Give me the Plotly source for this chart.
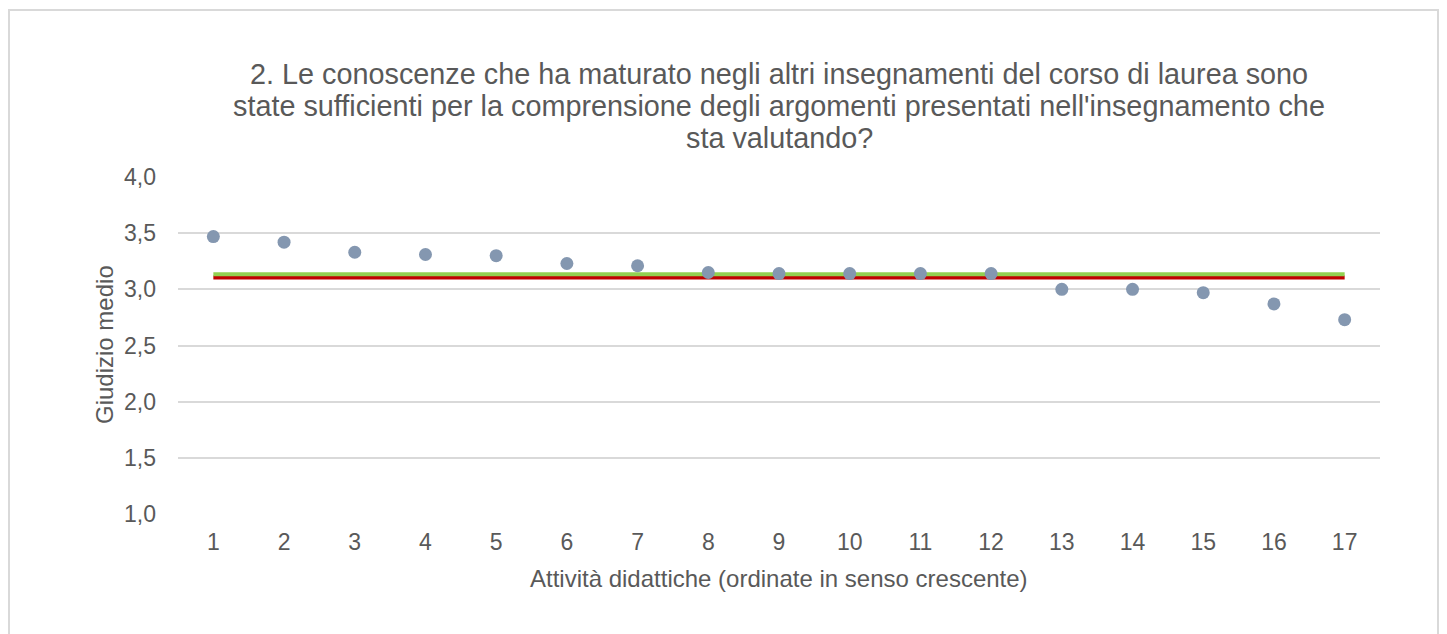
import plotly.graph_objects as go

activities = list(range(1, 18))
scores = [3.47, 3.42, 3.33, 3.31, 3.30, 3.23, 3.21, 3.15, 3.14, 3.14, 3.14, 3.14,
          3.00, 3.00, 2.97, 2.87, 2.73]
line_x = [1, 17]
red_level = [3.105, 3.105]
green_level = [3.135, 3.135]
y_ticks = [1.0, 1.5, 2.0, 2.5, 3.0, 3.5, 4.0]

title_lines = [
    "2. Le conoscenze che ha maturato negli altri insegnamenti del corso di laurea sono",
    "state sufficienti per la comprensione degli argomenti presentati nell'insegnamento che",
    "sta valutando?",
]
x_title = "Attività didattiche (ordinate in senso crescente)"
y_title = "Giudizio medio"

# page body has an 8px margin, compensate so the plot lands where intended
OFF = 8
W, H = 1447, 634
ml, mt = 178 - OFF, 177 - OFF
pw, ph = 1202, 337
mr = W - ml - pw
mb = H - mt - ph


def px_x(sx):
    return (sx - OFF - ml) / pw


def px_y(sy):
    return (H - mb - (sy - OFF)) / ph


font_c = "#595959"
fam = "Liberation Sans, Arial, sans-serif"

fig = go.Figure()
fig.add_trace(go.Scatter(x=line_x, y=red_level, mode="lines",
                         line=dict(color="#C00000", width=4), showlegend=False, hoverinfo="skip"))
fig.add_trace(go.Scatter(x=line_x, y=green_level, mode="lines",
                         line=dict(color="#92D050", width=4), showlegend=False, hoverinfo="skip"))
fig.add_trace(go.Scatter(x=activities, y=scores, mode="markers",
                         marker=dict(color="#8497B0", size=13), showlegend=False))

fig.update_layout(
    width=W, height=H,
    margin=dict(l=ml, r=mr, t=mt, b=mb),
    paper_bgcolor="white", plot_bgcolor="white",
    separators=",.",
    font=dict(family=fam, color=font_c, size=23),
    xaxis=dict(range=[0.5, 17.5], tickmode="array", tickvals=activities,
               ticktext=[str(a) for a in activities], showgrid=False, zeroline=False,
               showline=False, ticks="", ticklabelstandoff=12,
               tickfont=dict(size=23, color=font_c)),
    yaxis=dict(range=[1.0, 4.0], tickmode="array", tickvals=y_ticks, tickformat=".1f",
               showgrid=True, gridcolor="#D9D9D9", gridwidth=1.5, zeroline=False,
               showline=False, ticks="", ticklabelstandoff=21,
               tickfont=dict(size=23, color=font_c)),
)

title_centers = [74, 106, 138]
for txt, cy in zip(title_lines, title_centers):
    fig.add_annotation(text=txt, xref="paper", yref="paper", x=0.5, y=px_y(cy),
                       xanchor="center", yanchor="middle", showarrow=False,
                       font=dict(size=28.8, color=font_c, family=fam))

fig.add_annotation(text=x_title, xref="paper", yref="paper", x=px_x(779), y=px_y(578),
                   xanchor="center", yanchor="middle", showarrow=False,
                   font=dict(size=24, color=font_c, family=fam))
fig.add_annotation(text=y_title, xref="paper", yref="paper", x=px_x(104), y=px_y(345),
                   xanchor="center", yanchor="middle", showarrow=False, textangle=-90,
                   font=dict(size=24, color=font_c, family=fam))

# outer chart border
fig.add_shape(type="rect", xref="paper", yref="paper",
              x0=px_x(9), x1=px_x(1438), y0=px_y(700), y1=px_y(10),
              line=dict(color="#D9D9D9", width=2), fillcolor="rgba(0,0,0,0)", layer="below")

fig.write_html("out.html")
